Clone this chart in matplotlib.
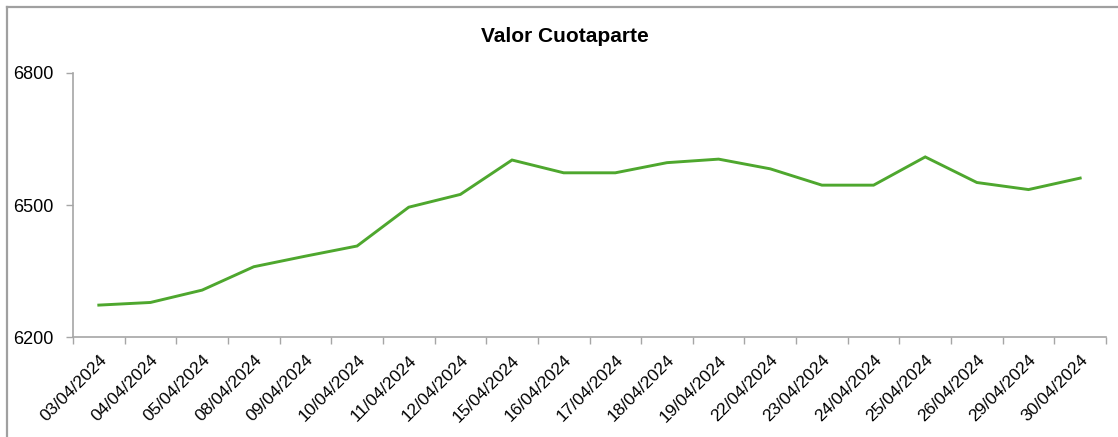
import matplotlib.pyplot as plt
from matplotlib.lines import Line2D
import numpy as np

plt.rcParams['font.family'] = ['Liberation Sans', 'DejaVu Sans']

# Datos
fechas = ['03/04/2024', '04/04/2024', '05/04/2024', '08/04/2024', '09/04/2024',
          '10/04/2024', '11/04/2024', '12/04/2024', '15/04/2024', '16/04/2024',
          '17/04/2024', '18/04/2024', '19/04/2024', '22/04/2024', '23/04/2024',
          '24/04/2024', '25/04/2024', '26/04/2024', '29/04/2024', '30/04/2024']
valores = [6273, 6279, 6307, 6360, 6384, 6407, 6495, 6524, 6602, 6573,
           6573, 6596, 6604, 6582, 6545, 6545, 6609, 6551, 6535, 6561]
titulo = 'Valor Cuotaparte'
y_ticks = [6200, 6500, 6800]

W, H = 1118, 437
fig = plt.figure(figsize=(W / 100, H / 100), dpi=100)
ax = fig.add_axes([73 / W, 1 - 337.3 / H, (1106 - 73) / W, (337.3 - 72.7) / H])

x = np.arange(len(fechas))
ax.plot(x, valores, color='#4ea72e', lw=2.1, solid_joinstyle='miter')

ax.set_xlim(-0.5, len(fechas) - 0.5)
ax.set_ylim(y_ticks[0], y_ticks[-1])
ax.set_yticks(y_ticks)
ax.set_yticklabels([str(v) for v in y_ticks], fontsize=13)

# ticks en los bordes de categoria, etiquetas al centro
ax.set_xticks(np.arange(len(fechas) + 1) - 0.5)
ax.set_xticklabels([])
ax.set_xticks(x, minor=True)
ax.set_xticklabels(fechas, minor=True, rotation=45, ha='right', va='top',
                   rotation_mode='anchor', fontsize=12.5)
ax.tick_params(axis='x', which='minor', length=0, pad=11)
ax.tick_params(axis='x', which='major', length=5, color='#a6a6a6', width=1)
ax.tick_params(axis='y', length=5, color='#a6a6a6', width=1, pad=9)

for s in ['top', 'right']:
    ax.spines[s].set_visible(False)
for s in ['left', 'bottom']:
    ax.spines[s].set_color('#a6a6a6')
    ax.spines[s].set_linewidth(1.2)

fig.text(565 / W, 1 - 36 / H, titulo, ha='center', va='center',
         fontsize=15, fontweight='bold')

# borde del area del grafico
fig.add_artist(Line2D([7 / W, 1], [1 - 6.5 / H, 1 - 6.5 / H], color='#a0a0a0', lw=1.6))
fig.add_artist(Line2D([7 / W, 7 / W], [0, 1 - 6.5 / H], color='#a0a0a0', lw=1.6))

fig.savefig('out.png', dpi=100)
